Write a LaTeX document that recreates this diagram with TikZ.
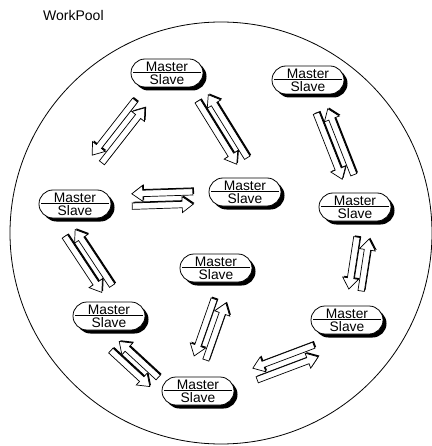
\documentclass[tikz,border=0pt]{standalone}
\usepackage{fontspec}
\setmainfont{Liberation Sans}
\usetikzlibrary{calc,shapes.misc,shadows}
\tikzset{
  msnode/.style={rounded rectangle, draw=black, line width=0.8pt, fill=white,
    minimum width=72pt, minimum height=28pt, inner sep=0pt, align=center,
    font=\fontsize{13.8}{13}\selectfont,
    drop shadow={fill=black, opacity=1, shadow xshift=3.5pt, shadow yshift=-3.5pt}},
  sepline/.style={line width=0.8pt},
  arrbody/.style={fill=white, draw=black, line width=0.7pt, line join=miter},
  arrshadow/.style={fill=black, transform canvas={shift={(1.2pt,1.2pt)}}},
  pool/.style={line width=0.8pt}
}
% one block arrow from coordinate (#1) to coordinate (#2)
\newcommand\barrow[2]{%
  \coordinate (bh) at ($(#2)!11pt!(#1)$);
  \coordinate (p1) at ($(#1)!3.2pt!-90:(#2)$);
  \coordinate (p2) at ($(bh)!3.2pt!-90:(#2)$);
  \coordinate (p3) at ($(bh)!8pt!-90:(#2)$);
  \coordinate (p5) at ($(bh)!8pt!90:(#2)$);
  \coordinate (p6) at ($(bh)!3.2pt!90:(#2)$);
  \coordinate (p7) at ($(#1)!3.2pt!90:(#2)$);
  \fill[arrshadow] (p1)--(p2)--(p3)--(#2)--(p5)--(p6)--(p7)--cycle;
  \filldraw[arrbody] (p1)--(p2)--(p3)--(#2)--(p5)--(p6)--(p7)--cycle;
}
% pair of opposite block arrows along the mid line #1 -> #2
\newcommand\pairarr[2]{%
  \coordinate (ma) at #1;
  \coordinate (mb) at #2;
  \coordinate (fs) at ($(ma)!6.2pt!-90:(mb)$);
  \coordinate (fe) at ($(mb)!6.2pt!90:(ma)$);
  \coordinate (rs) at ($(mb)!6.2pt!-90:(ma)$);
  \coordinate (re) at ($(ma)!6.2pt!90:(mb)$);
  \barrow{fs}{fe}
  \barrow{rs}{re}
}
\newcommand\msbox[2]{%
  \node[msnode] (#1) at (#2) {Master\\Slave};
  \draw[sepline] ($(#1.west)+(2.5,-0.6)$) -- ($(#1.east)+(-2.5,-0.6)$);
}
\begin{document}
\begin{tikzpicture}[x=1pt,y=-1pt]
\useasboundingbox (0,0) rectangle (431,446);
\coordinate (c) at (221,233);
\draw[pool] (c) circle [radius=211pt];
\node[anchor=base west, font=\fontsize{14}{16}\selectfont, inner sep=0pt] (title) at (43,20.7) {WorkPool};
\msbox{n1}{167,73}
\msbox{n2}{308,80}
\msbox{n3}{245,192}
\msbox{n4}{75,204}
\msbox{n5}{355,207}
\msbox{n6}{216,268}
\msbox{n7}{109,316}
\msbox{n8}{347,320}
\msbox{n9}{198,391}
\pairarr{($(n1)+(-27,31)$)}{($(n4)+(22,-45)$)}
\pairarr{($(n1)+(36,25)$)}{($(n3)+(-3,-31)$)}
\pairarr{($(n4)+(57,-4)$)}{($(n3)+(-52,6)$)}
\pairarr{($(n2)+(14,31)$)}{($(n5)+(-7,-30)$)}
\pairarr{($(n4)+(-5,29)$)}{($(n7)+(-2,-27)$)}
\pairarr{($(n5)+(8,31)$)}{($(n8)+(8,-30)$)}
\pairarr{($(n6)+(4,33)$)}{($(n9)+(2,-33)$)}
\pairarr{($(n7)+(6,30)$)}{($(n9)+(-44,-9)$)}
\pairarr{($(n8)+(-31,31)$)}{($(n9)+(57,-17)$)}
\end{tikzpicture}
\end{document}
